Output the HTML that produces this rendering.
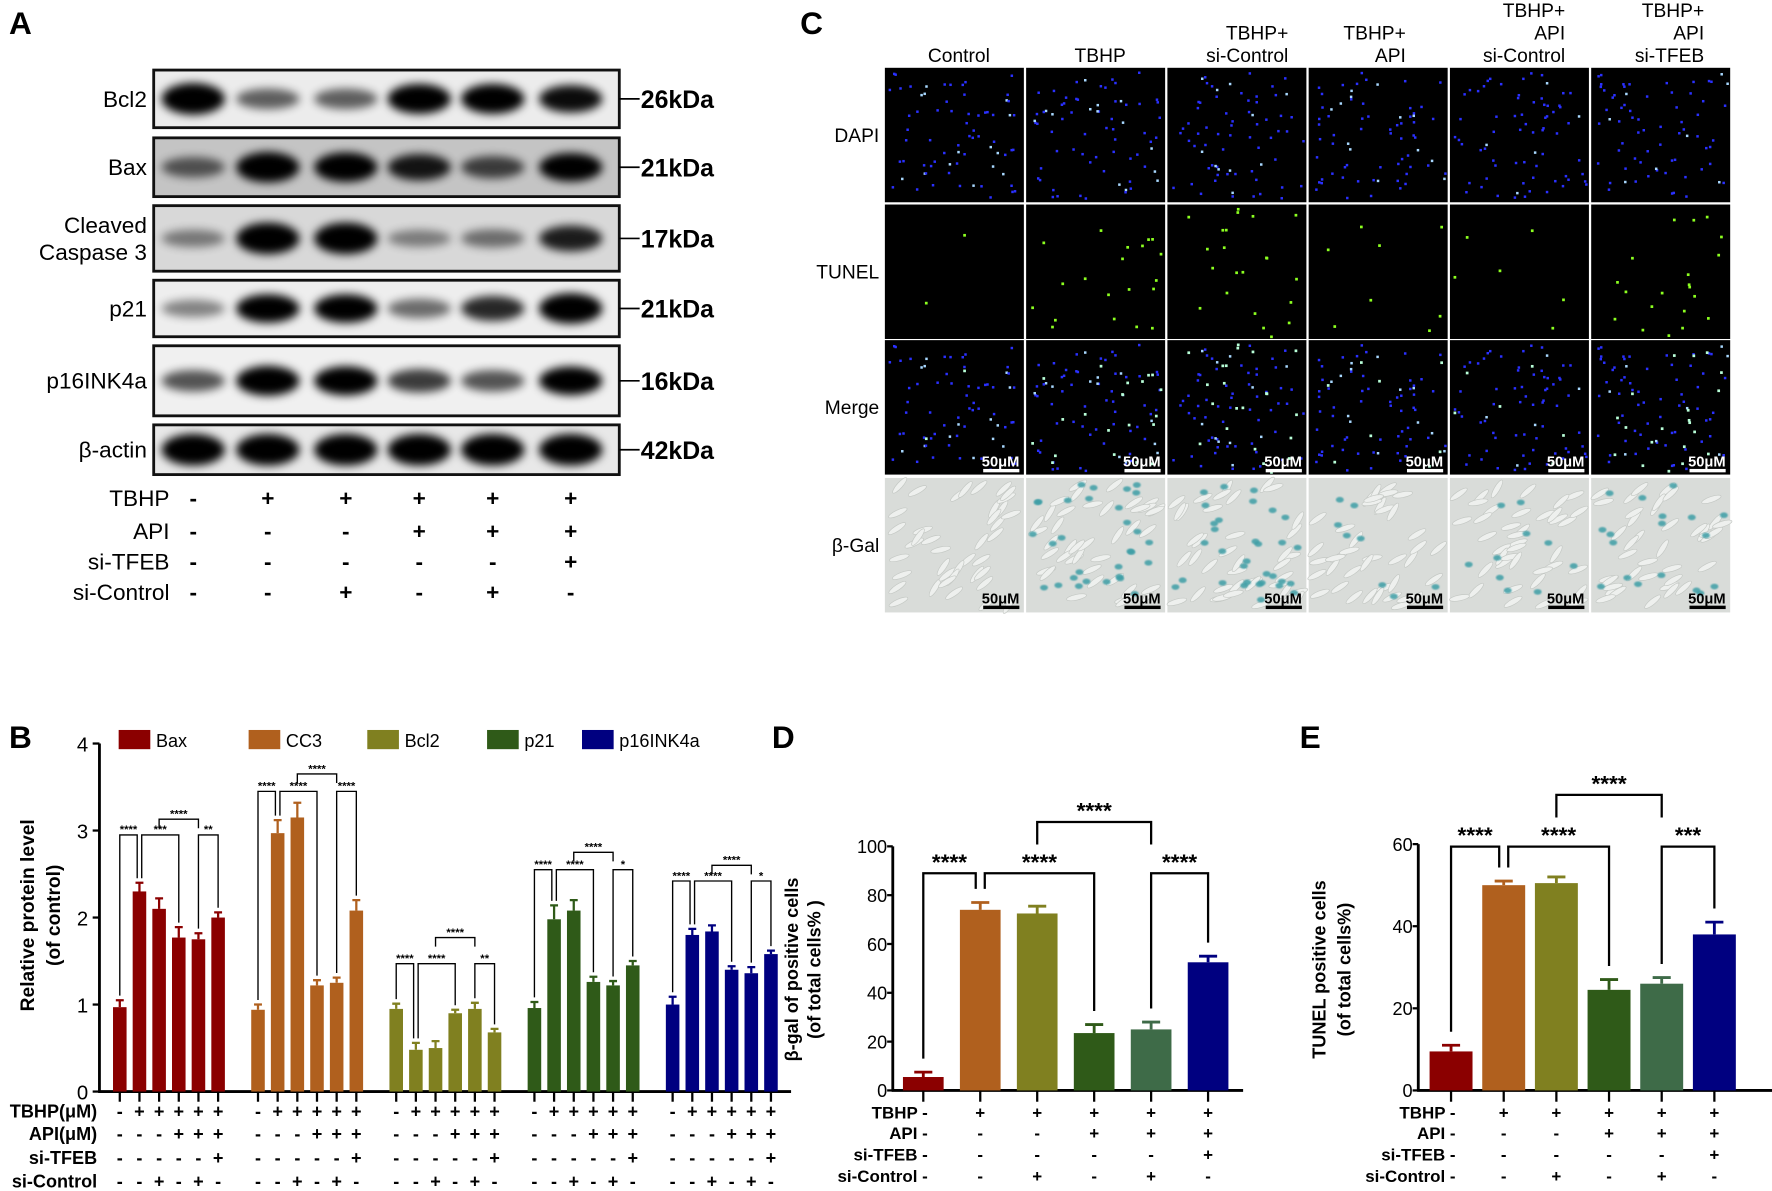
<!DOCTYPE html>
<html><head><meta charset="utf-8"><title>Figure</title>
<style>
html,body{margin:0;padding:0;background:#fff;overflow:hidden;}
svg{display:block;}
text{font-family:"Liberation Sans Narrow","Liberation Sans",sans-serif;fill:#000;}
.pl{font-family:"Liberation Sans",sans-serif;font-weight:bold;font-size:28px;}
</style></head>
<body>
<svg id="fig" xmlns="http://www.w3.org/2000/svg" width="1772" height="1191" viewBox="0 0 1568 1054" preserveAspectRatio="none">
<defs>
<filter id="blur4" x="-50%" y="-100%" width="200%" height="300%"><feGaussianBlur stdDeviation="4"/></filter>
<filter id="blur1"><feGaussianBlur stdDeviation="0.6"/></filter>
</defs>
</svg>
<script>
// ---------- Chart B data ----------
const bGroups = ['Bax','CC3','Bcl2','p21','p16INK4a'];
const bColors = ['#8b0000','#b0601e','#808020','#2f5a18','#000080'];
const bBax = [0.97, 2.30, 2.10, 1.77, 1.75, 2.00];
const bBaxErr = [0.08, 0.10, 0.12, 0.12, 0.07, 0.06];
const bCC3 = [0.94, 2.97, 3.15, 1.22, 1.25, 2.08];
const bCC3Err = [0.06, 0.15, 0.17, 0.06, 0.06, 0.12];
const bBcl2 = [0.95, 0.48, 0.50, 0.90, 0.95, 0.68];
const bBcl2Err = [0.06, 0.08, 0.08, 0.04, 0.07, 0.04];
const bP21 = [0.96, 1.98, 2.08, 1.26, 1.22, 1.45];
const bP21Err = [0.07, 0.16, 0.12, 0.06, 0.05, 0.05];
const bP16 = [1.00, 1.80, 1.84, 1.40, 1.36, 1.58];
const bP16Err = [0.09, 0.07, 0.07, 0.04, 0.07, 0.04];
const bYTicks = [0, 1, 2, 3, 4];
const bBracketPairs = [[0,1],[1,3],[2,4],[4,5]];
const bBaxBr = [2.95, 2.95, 3.13, 2.95];
const bCC3Br = [3.45, 3.45, 3.65, 3.45];
const bBcl2Br = [1.47, 1.47, 1.77, 1.47];
const bP21Br = [2.55, 2.55, 2.75, 2.55];
const bP16Br = [2.42, 2.42, 2.60, 2.42];
const bBaxStars = ['****','***','****','**'];
const bCC3Stars = ['****','****','****','****'];
const bBcl2Stars = ['****','****','****','**'];
const bP21Stars = ['****','****','****','*'];
const bP16Stars = ['****','****','****','*'];
// ---------- Chart D data ----------
const dValues = [5.5, 74, 72.5, 23.5, 25, 52.5];
const dErrors = [2, 3, 3, 3.5, 3, 2.5];
const dYTicks = [0, 20, 40, 60, 80, 100];
const dBracketY = [89, 89, 110, 89];
const dStars = ['****','****','****','****'];
// ---------- Chart E data ----------
const eValues = [9.5, 50, 50.5, 24.5, 26, 38];
const eErrors = [1.5, 1, 1.5, 2.5, 1.5, 3];
const eYTicks = [0, 20, 40, 60];
const eBracketY = [59.4, 59.4, 72, 59.4];
const eStars = ['****','****','****','***'];
const deColors = ['#8b0000','#b0601e','#808020','#2f5a18','#3e6b48','#000080'];
const dePairs = [[0,1],[1,3],[2,4],[4,5]];
// ---------- Conditions ----------
const condTBHP = ['-','+','+','+','+','+'];
const condAPI = ['-','-','-','+','+','+'];
const condTFEB = ['-','-','-','-','-','+'];
const condCtrl = ['-','-','+','-','+','-'];
// ---------- Blot band intensities ----------
const blotNames = ['Bcl2','Bax','Cleaved|Caspase 3','p21','p16INK4a','β-actin'];
const blotKDa = ['26kDa','21kDa','17kDa','21kDa','16kDa','42kDa'];
const blotBcl2 = [1, 0.45, 0.45, 0.92, 0.92, 0.8];
const blotBax = [0.45, 0.95, 0.9, 0.75, 0.55, 0.85];
const blotCC3 = [0.3, 1, 1, 0.28, 0.35, 0.72];
const blotP21 = [0.3, 0.85, 0.85, 0.4, 0.68, 0.95];
const blotP16 = [0.5, 0.92, 0.88, 0.6, 0.5, 0.85];
const blotActin = [1, 1, 1, 1, 1, 1];
// ---------- Micrograph counts ----------
const cHeaders = [['Control'],['TBHP'],['TBHP+','si-Control'],['TBHP+','API'],['TBHP+','API','si-Control'],['TBHP+','API','si-TFEB']];
const tunelCounts = [2, 20, 22, 8, 6, 20];
const galCounts = [0, 30, 32, 8, 10, 18];

const NS = 'http://www.w3.org/2000/svg';
const svg = document.getElementById('fig');
function mk(tag, a, p){ const e = document.createElementNS(NS, tag); for (const k in a) e.setAttribute(k, a[k]); (p || svg).appendChild(e); return e; }
function tx(s, x, y, size, anchor, weight, p, fill){ const e = mk('text', {x:x, y:y, 'font-size':size, 'text-anchor':anchor||'start', 'font-weight':weight||'normal'}, p); if (fill) e.style.fill = fill; e.textContent = s; return e; }
let seed = 12345;
function rnd(){ seed = (seed * 16807) % 2147483647; return seed / 2147483647; }

// ===== Panel letters =====
[['A',8,30],['B',8,662],['C',708,30],['D',683,662],['E',1150,662]].forEach(l => {
  const t = tx(l[0], l[1], l[2], 28, 'start', 'bold');
  t.setAttribute('class', 'pl');
  
  
});

// ===== Panel A: western blots =====
const gA = mk('g', {});


const blotRows = [[62,113],[122,174],[182,240],[248,298],[306,368],[376,420]];
const blotData = [blotBcl2, blotBax, blotCC3, blotP21, blotP16, blotActin];
const blotBg = ['#ececec','#c4c4c4','#d8d8d8','#eeeeee','#f0f0f0','#e8e8e8'];
const laneX = [171, 237, 306, 371, 436, 505];
blotRows.forEach((r, i) => {
  const g = mk('g', {}, gA);
  
  
  const bg = mk('rect', {x:136, y:r[0], width:412, height:r[1]-r[0], fill:blotBg[i], stroke:'#111', 'stroke-width':2.5}, g);
  
  
  const cy = (r[0] + r[1]) / 2;
  blotData[i].forEach((v, j) => {
    const b = mk('ellipse', {cx:laneX[j], cy:cy, rx:28, ry:5 + 9*v, fill:'#000', opacity:Math.min(1, 0.15 + v), filter:'url(#blur4)'}, g);
    
    
  });
  const parts = blotNames[i].split('|');
  if (parts.length === 2) {
    const t1 = tx(parts[0], 130, cy - 5, 20, 'end', 'normal', g);
    
    
    const t2 = tx(parts[1], 130, cy + 19, 20, 'end', 'normal', g);
    
    
  } else {
    const t = tx(parts[0], 130, cy + 7, 20, 'end', 'normal', g);
    
    
  }
  const ln = mk('line', {x1:548, y1:cy, x2:566, y2:cy, stroke:'#000', 'stroke-width':1.5}, g);
  
  
  const k = tx(blotKDa[i], 567, cy + 8, 22, 'start', 'bold', g);
  
  
});
const condRows = [condTBHP, condAPI, condTFEB, condCtrl];
const aCondNames = ['TBHP','API','si-TFEB','si-Control'];
const aCondY = [441, 470, 497, 524];
condRows.forEach((row, i) => {
  const t = tx(aCondNames[i], 150, aCondY[i] + 7, 20, 'end', 'normal', gA);
  
  
  row.forEach((s, j) => {
    const sg = tx(s, laneX[j], aCondY[i] + 7, 20, 'middle', 'bold', gA);
    
    
  });
});

// ===== Panel C: micrographs =====
const gC = mk('g', {});


const colX = [783, 908, 1033, 1158, 1283, 1408];
const rowY = [60, 181, 301, 423];
const rowNames = ['DAPI','TUNEL','Merge','β-Gal'];
const cw = 123, ch = 119;
rowNames.forEach((n, i) => {
  const t = tx(n, 778, rowY[i] + ch/2 + 6, 17, 'end', 'normal', gC);
  
  
});
cHeaders.forEach((h, c) => {
  const center = c < 2;
  const x = center ? colX[c] + cw/2 + 4 : [0,0,1140,1244,1385,1508][c];
  h.forEach((line, k) => {
    const y = 55 - (h.length - 1 - k) * 20;
    const t = tx(line, x, y, 17, center ? 'middle' : 'end', 'normal', gC);
    
    
  });
});
colX.forEach((x0, c) => {
  const nuclei = [];
  for (let k = 0; k < 70; k++) nuclei.push([x0 + 3 + rnd()*(cw-6), rnd()*(ch-6) + 3, rnd()]);
  const greens = [];
  for (let k = 0; k < tunelCounts[c]; k++) greens.push([x0 + 3 + rnd()*(cw-6), rnd()*(ch-6) + 3]);
  [0,1,2].forEach(r => {
    const y0 = rowY[r];
    const g = mk('g', {}, gC);
    
    
    const bg = mk('rect', {x:x0, y:y0, width:cw, height:ch, fill:'#000'}, g);
    
    
    if (r !== 1) {
      nuclei.forEach(p => {
        const d = mk('rect', {x:p[0], y:y0 + p[1], width:2.2, height:2.2, fill:p[2] > 0.85 ? '#a8d8ff' : '#2a30ff'}, g);
        
        
      });
    }
    if (r !== 0) {
      greens.forEach(p => {
        const d = mk('rect', {x:p[0], y:y0 + p[1], width:2.4, height:2.4, fill:r === 1 ? '#8cff20' : '#b8ffd8'}, g);
        
        
      });
    }
    if (r === 2) {
      const sb = tx('50μM', x0 + cw - 4, y0 + ch - 7, 13, 'end', 'bold', g, '#fff');
      
      
      const bar = mk('rect', {x:x0 + cw - 36, y:y0 + ch - 5, width:32, height:3, fill:'#fff'}, g);
      
      
    }
  });
  const y0 = rowY[3];
  const g = mk('g', {}, gC);
  
  
  const bg = mk('rect', {x:x0, y:y0, width:cw, height:ch, fill:'#d9dcd9'}, g);
  
  
  for (let k = 0; k < 40; k++) {
    const cx = x0 + 6 + rnd()*(cw-12), cy = y0 + 6 + rnd()*(ch-12);
    const e = mk('ellipse', {cx:cx, cy:cy, rx:9, ry:2.5, fill:'#eef0ee', stroke:'#c4c8c4', 'stroke-width':0.6, transform:'rotate(' + (-60 + rnd()*50) + ' ' + cx + ' ' + cy + ')'}, g);
    
    
  }
  for (let k = 0; k < galCounts[c]; k++) {
    const cx = x0 + 5 + rnd()*(cw-10), cy = y0 + 5 + rnd()*(ch-16);
    const e = mk('ellipse', {cx:cx, cy:cy, rx:3.5, ry:2.5, fill:'#3c9ea6', opacity:0.85, filter:'url(#blur1)'}, g);
    
    
  }
  const sb = tx('50μM', x0 + cw - 4, y0 + ch - 8, 13, 'end', 'bold', g);
  
  
  const bar = mk('rect', {x:x0 + cw - 36, y:y0 + ch - 6, width:32, height:3, fill:'#000'}, g);
  
  
});

// ===== Shared bracket drawer =====
function bracket(g, x1, x2, yb, l1, l2, label, fs, sw){
  const p = mk('path', {d:'M' + x1 + ' ' + l1 + 'V' + yb + 'H' + x2 + 'V' + l2, fill:'none', stroke:'#000', 'stroke-width':sw}, g);
  
  
  const t = tx(label, (x1 + x2)/2, yb - fs*0.15, fs, 'middle', 'bold', g);
  
  
}

// ===== Panel B =====
const gB = mk('g', {});


const yB = v => 966 - v * 77;
const xB = (g, i) => 106 + g * 122.3 + i * 17.4;
const bVals = [bBax, bCC3, bBcl2, bP21, bP16];
const bErrs = [bBaxErr, bCC3Err, bBcl2Err, bP21Err, bP16Err];
const bBrs = [bBaxBr, bCC3Br, bBcl2Br, bP21Br, bP16Br];
const bStarsAll = [bBaxStars, bCC3Stars, bBcl2Stars, bP21Stars, bP16Stars];
const yAxB = mk('line', {x1:88, y1:yB(4), x2:88, y2:yB(0) + 1, stroke:'#000', 'stroke-width':2.5}, gB);


const xAxB = mk('line', {x1:87, y1:yB(0), x2:700, y2:yB(0), stroke:'#000', 'stroke-width':2.5}, gB);


bYTicks.forEach(v => {
  const tk = mk('line', {x1:82, y1:yB(v), x2:88, y2:yB(v), stroke:'#000', 'stroke-width':2}, gB);
  
  
  const t = tx(String(v), 78, yB(v) + 7, 18, 'end', 'normal', gB);
  
  
});
const ytB = mk('text', {x:0, y:0, 'font-size':17, 'font-weight':'bold', 'text-anchor':'middle', transform:'translate(30,810) rotate(-90)'}, gB);


ytB.setAttribute('style', 'font-family:"Liberation Sans",sans-serif');
ytB.textContent = 'Relative protein level';
const ytB2 = mk('text', {x:0, y:0, 'font-size':17, 'font-weight':'bold', 'text-anchor':'middle', transform:'translate(53,810) rotate(-90)'}, gB);


ytB2.setAttribute('style', 'font-family:"Liberation Sans",sans-serif');
ytB2.textContent = '(of control)';
const legX = [105, 220, 325, 431, 515];
bGroups.forEach((name, g) => {
  const sw = mk('rect', {x:legX[g], y:646, width:28, height:17, fill:bColors[g]}, gB);
  
  
  const lt = tx(name, legX[g] + 33, 661, 16, 'start', 'normal', gB);
  
  
  bVals[g].forEach((v, i) => {
    const x = xB(g, i);
    const eb = mk('path', {d:'M' + x + ' ' + yB(v) + 'V' + yB(v + bErrs[g][i]) + 'M' + (x - 3.5) + ' ' + yB(v + bErrs[g][i]) + 'H' + (x + 3.5), stroke:bColors[g], 'stroke-width':2, fill:'none'}, gB);
    
    
    const r = mk('rect', {x:x - 6, y:yB(v), width:12, height:yB(0) - yB(v), fill:bColors[g]}, gB);
    
    
    const tk = mk('line', {x1:x, y1:yB(0), x2:x, y2:yB(0) + 9, stroke:'#000', 'stroke-width':2}, gB);
    
    
  });
  bBracketPairs.forEach((pr, k) => {
    const a = pr[0], b = pr[1];
    const x1 = xB(g, a) + (k === 1 ? 2 : 0), x2 = xB(g, b) - (k === 0 ? 2 : 0);
    const yb = yB(bBrs[g][k]);
    const l1 = k === 2 ? yb + 8 : yB(bVals[g][a] + bErrs[g][a]) - 4;
    const l2 = k === 2 ? yb + 8 : yB(bVals[g][b] + bErrs[g][b]) - 4;
    bracket(gB, x1, x2, yb, l1, l2, bStarsAll[g][k], 10, 1.2);
  });
});
const bCondNames = ['TBHP(μM)','API(μM)','si-TFEB','si-Control'];
const bCondY = [983, 1003, 1024, 1045];
condRows.forEach((row, i) => {
  const t = tx(bCondNames[i], 86, bCondY[i] + 6, 16, 'end', 'bold', gB);
  
  
  for (let g = 0; g < 5; g++) row.forEach((s, j) => {
    const sg = tx(s, xB(g, j), bCondY[i] + 6, 16, 'middle', 'bold', gB);
    
    
  });
});

// ===== Panels D & E =====
function drawSmall(cfg){
  const g = mk('g', {});
  
  
  const y = v => 965 - v * cfg.scale;
  const x = i => cfg.x0 + i * cfg.dx;
  const ya = mk('line', {x1:cfg.ax, y1:y(cfg.ticks[cfg.ticks.length-1]), x2:cfg.ax, y2:966, stroke:'#000', 'stroke-width':2.5}, g);
  
  
  const xa = mk('line', {x1:cfg.ax - 1, y1:965, x2:cfg.xEnd, y2:965, stroke:'#000', 'stroke-width':2.5}, g);
  
  
  cfg.ticks.forEach(v => {
    const tk = mk('line', {x1:cfg.ax - 5, y1:y(v), x2:cfg.ax, y2:y(v), stroke:'#000', 'stroke-width':2}, g);
    
    
    const t = tx(String(v), cfg.ax - 5, y(v) + 6, 16, 'end', 'normal', g);
    
    
  });
  cfg.titles.forEach((s, k) => {
    const t = mk('text', {x:0, y:0, 'font-size':16, 'font-weight':'bold', 'text-anchor':'middle', transform:'translate(' + cfg.titleX[k] + ',858) rotate(-90)'}, g);
    
    
    t.setAttribute('style', 'font-family:"Liberation Sans",sans-serif');
    t.textContent = s;
  });
  cfg.values.forEach((v, i) => {
    const top = y(v + cfg.errors[i]);
    const eb = mk('path', {d:'M' + x(i) + ' ' + y(v) + 'V' + top + 'M' + (x(i) - 8) + ' ' + top + 'H' + (x(i) + 8), stroke:deColors[i], 'stroke-width':2.5, fill:'none'}, g);
    
    
    const r = mk('rect', {x:x(i) - cfg.bw/2, y:y(v), width:cfg.bw, height:965 - y(v), fill:deColors[i]}, g);
    
    
    const tk = mk('line', {x1:x(i), y1:965, x2:x(i), y2:975, stroke:'#000', 'stroke-width':2}, g);
    
    
  });
  dePairs.forEach((pr, k) => {
    const a = pr[0], b = pr[1];
    const x1 = x(a) + (k === 1 ? 4 : 0), x2 = x(b) - (k === 0 ? 4 : 0);
    const yb = y(cfg.brY[k]);
    const l1 = k === 2 ? yb + 20 : y(cfg.values[a] + cfg.errors[a]) - 12;
    const l2 = k === 2 ? yb + 20 : y(cfg.values[b] + cfg.errors[b]) - 12;
    bracket(g, x1, x2, yb, l1, l2, cfg.stars[k], 20, 2);
  });
  const names = ['TBHP','API','si-TFEB','si-Control'];
  const cy = [984, 1002, 1021, 1040];
  condRows.forEach((row, i) => {
    const t = tx(names[i] + ' -', x(0) + 4, cy[i] + 6, 15, 'end', 'bold', g);
    
    
    row.forEach((s, j) => {
      if (j === 0) return;
      const sg = tx(s, x(j), cy[i] + 6, 15, 'middle', 'bold', g);
      
      
    });
  });
}
drawSmall({name:'beta-gal-chart', values:dValues, errors:dErrors, ticks:dYTicks, brY:dBracketY, stars:dStars, scale:2.16, ax:790, xEnd:1100, x0:817, dx:50.4, bw:36, titles:['β-gal of positive cells','(of total cells%  )'], titleX:[706, 726]});
drawSmall({name:'tunel-chart', values:eValues, errors:eErrors, ticks:eYTicks, brY:eBracketY, stars:eStars, scale:3.633, ax:1255, xEnd:1568, x0:1284, dx:46.6, bw:38, titles:['TUNEL positive cells','(of total cells%)'], titleX:[1173, 1195]});
</script>
</body></html>
